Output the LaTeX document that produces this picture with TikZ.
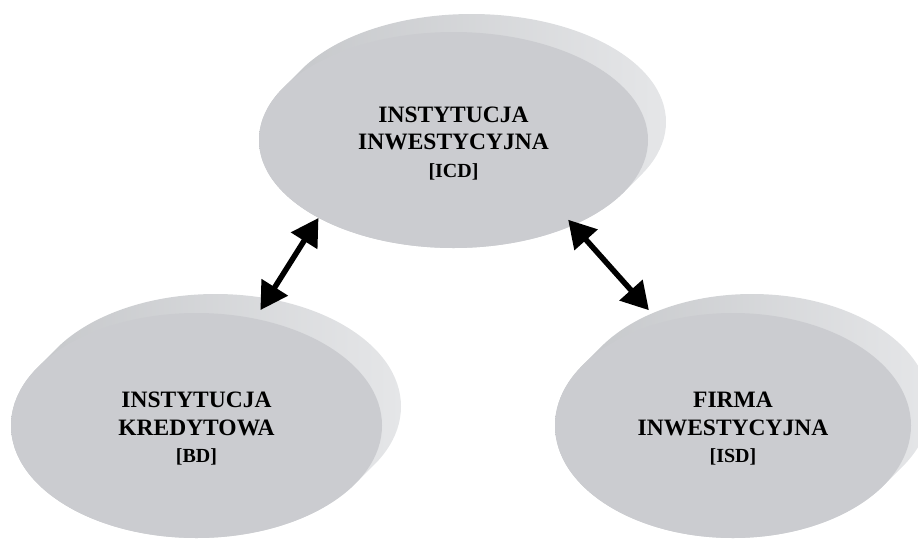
\documentclass[tikz,border=0pt]{standalone}
\usepackage{fontspec}
\setmainfont{Liberation Serif}
\usetikzlibrary{shapes.geometric,arrows.meta}
\definecolor{face}{RGB}{203,204,208}
\definecolor{rimleft}{RGB}{196,198,201}
\definecolor{rimdark}{RGB}{167,170,175}
\definecolor{rimlight}{RGB}{229,230,232}
\tikzset{
  disc/.style={ellipse, fill=face, inner sep=0pt, align=center,
    font=\bfseries\fontsize{23.5}{27.5}\selectfont},
  rim/.style={left color=rimleft, middle color=rimdark, right color=rimlight},
  dblarrow/.style={line width=5.5pt,
    {Triangle[length=27pt,width=30pt]}-{Triangle[length=27pt,width=30pt]}},
}
\newcommand{\topstrut}{\rule{0pt}{22pt}}
\begin{document}
\begin{tikzpicture}[x=1pt,y=-1pt]
\useasboundingbox (0,0) rectangle (918,539);
\clip (0,0) rectangle (918,539);
\coordinate (icdc) at (453.5,140);
\coordinate (bdc) at (196.5,425.5);
\coordinate (isdc) at (733,425.5);
% extruded rims
\shade[rim] \foreach \t in {0,1,...,18} {([shift={(\t,-\t)}]icdc) ellipse [x radius=194.5pt, y radius=108pt]};
\shade[rim] \foreach \t in {0,1,...,19} {([shift={(\t,-\t)}]bdc) ellipse [x radius=185.5pt, y radius=112.5pt]};
\shade[rim] \foreach \t in {0,1,...,19} {([shift={(\t,-\t)}]isdc) ellipse [x radius=178pt, y radius=112.5pt]};
% front faces
\node[disc, minimum width=389pt, minimum height=216pt] (icd) at (icdc)
  {\topstrut INSTYTUCJA\\INWESTYCYJNA\\{\fontsize{20}{27.5}\selectfont [ICD]}};
\node[disc, minimum width=371pt, minimum height=225pt] (bd) at (bdc)
  {\topstrut INSTYTUCJA\\KREDYTOWA\\{\fontsize{20}{27.5}\selectfont [BD]}};
\node[disc, minimum width=356pt, minimum height=225pt] (isd) at (isdc)
  {\topstrut FIRMA\\INWESTYCYJNA\\{\fontsize{20}{27.5}\selectfont [ISD]}};
% connectors
\draw[dblarrow] (icd.210.9) -- ([xshift=4.7pt,yshift=8.6pt]bd.61.6);
\draw[dblarrow] ([xshift=-6.4pt,yshift=5pt]icd.325.9) -- ([xshift=-9.7pt,yshift=12.9pt]isd.126.9);
\end{tikzpicture}
\end{document}
